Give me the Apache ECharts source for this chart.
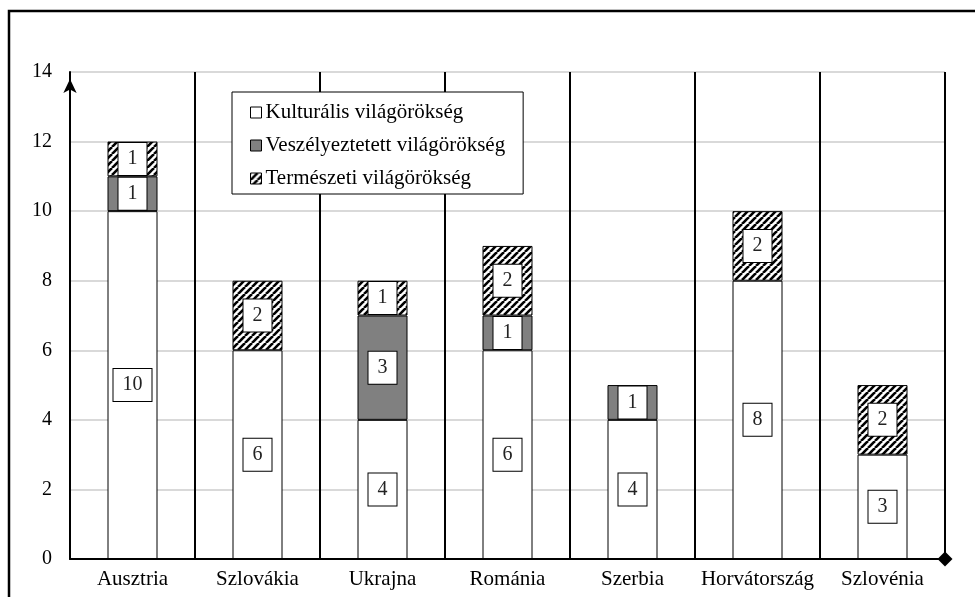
<!DOCTYPE html>
<html>
<head>
<meta charset="utf-8">
<script src="https://cdn.jsdelivr.net/npm/echarts@6/dist/echarts.min.js"></script>
<style>html,body{margin:0;padding:0;background:#fff;}#c{width:975px;height:597px;}</style>
</head>
<body>
<div id="c"></div>
<script>
const categories = ['Ausztria', 'Szlovákia', 'Ukrajna', 'Románia', 'Szerbia', 'Horvátország', 'Szlovénia'];
const kulturalis = [10, 6, 4, 6, 4, 8, 3];
const veszelyeztetett = [1, 0, 3, 1, 1, 0, 0];
const termeszeti = [1, 2, 1, 2, 0, 2, 2];
const seriesNames = ['Kulturális világörökség', 'Veszélyeztetett világörökség', 'Természeti világörökség'];
const yTicks = { min: 0, max: 14, interval: 2 };

const FONT = '"Liberation Serif", "Times New Roman", serif';

// hatch pattern
const pc = document.createElement('canvas');
const P = 7;
pc.width = P; pc.height = P;
const g = pc.getContext('2d');
g.fillStyle = '#fff'; g.fillRect(0, 0, P, P);
g.strokeStyle = '#000'; g.lineWidth = 2.6;
[[-P, 0], [0, 0], [P, 0]].forEach(function (o) {
  g.beginPath();
  g.moveTo(o[0], P);
  g.lineTo(o[0] + P, 0);
  g.stroke();
});

const clean = a => a.map(v => (v === 0 ? null : v));

const labelStyle = {
  show: true,
  position: 'inside',
  color: '#222',
  fontFamily: FONT,
  fontSize: 20,
  lineHeight: 21,
  backgroundColor: '#fff',
  borderColor: '#000',
  borderWidth: 1,
  padding: [6, 9, 5, 9]
};

function mkSeries(name, data, color) {
  return {
    name: name,
    type: 'bar',
    stack: 'total',
    barWidth: '40%',
    data: clean(data),
    itemStyle: { color: color, borderColor: '#000', borderWidth: 1 },
    label: labelStyle,
    emphasis: { disabled: true }
  };
}

const chart = echarts.init(document.getElementById('c'), null, { renderer: 'canvas' });
chart.setOption({
  animation: false,
  backgroundColor: '#fff',
  textStyle: { fontFamily: FONT },
  graphic: [{
    type: 'rect',
    shape: { x: 9, y: 11, width: 1200, height: 1200 },
    style: { fill: 'none', stroke: '#000', lineWidth: 2.5 },
    z: 100
  }],
  legend: {
    orient: 'vertical',
    left: 232,
    top: 92,
    icon: 'rect',
    itemWidth: 11,
    itemHeight: 11,
    itemGap: 12,
    padding: [10, 18, 5, 18],
    backgroundColor: '#fff',
    borderColor: '#000',
    borderWidth: 1,
    textStyle: { fontFamily: FONT, fontSize: 21, lineHeight: 21, color: '#000', padding: [0, 0, 0, -1] },
    itemStyle: { borderColor: '#000', borderWidth: 1 },
    data: seriesNames
  },
  grid: { left: 70, right: 30, top: 72, bottom: 38, containLabel: false },
  xAxis: {
    type: 'category',
    data: categories,
    axisLine: {
      show: true,
      lineStyle: { color: '#000', width: 2 },
      symbol: ['none', 'diamond'],
      symbolSize: [15, 15]
    },
    axisTick: { show: false },
    axisLabel: { interval: 0, color: '#000', fontFamily: FONT, fontSize: 21, margin: 10 },
    splitLine: { show: true, interval: 0, lineStyle: { color: '#000', width: 2 } }
  },
  yAxis: {
    type: 'value',
    min: yTicks.min,
    max: yTicks.max,
    interval: yTicks.interval,
    axisLine: {
      show: true,
      lineStyle: { color: '#000', width: 2 },
      symbol: ['none', 'arrow'],
      symbolSize: [10, 14],
      symbolOffset: [0, -7]
    },
    axisTick: { show: false },
    axisLabel: { color: '#000', fontFamily: FONT, fontSize: 20, margin: 18 },
    splitLine: { show: true, lineStyle: { color: '#d9d9d9', width: 2 } }
  },
  series: [
    mkSeries(seriesNames[0], kulturalis, '#ffffff'),
    mkSeries(seriesNames[1], veszelyeztetett, '#808080'),
    mkSeries(seriesNames[2], termeszeti, { image: pc, repeat: 'repeat' })
  ]
});
</script>
</body>
</html>
